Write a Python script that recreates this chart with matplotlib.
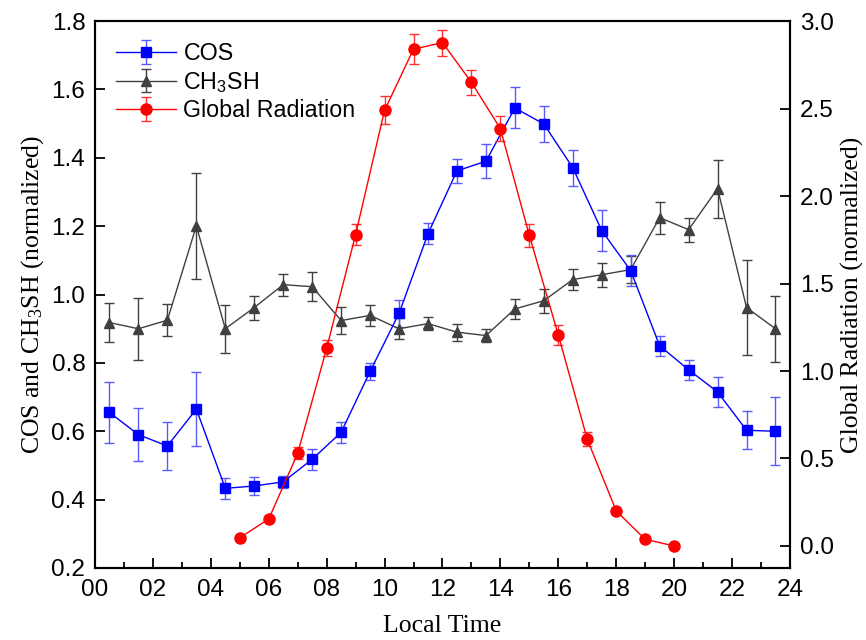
import numpy as np
import matplotlib
matplotlib.use('Agg')
import matplotlib.pyplot as plt
from matplotlib.ticker import MultipleLocator, FixedLocator, FormatStrFormatter

plt.rcParams['font.family'] = 'Liberation Sans'
plt.rcParams['mathtext.default'] = 'regular'

# hourly data (half-hour centres)
hours = np.arange(0.5, 24, 1.0)
cos_vals = [0.655, 0.59, 0.557, 0.665, 0.433, 0.44, 0.452, 0.518, 0.597, 0.775,
            0.945, 1.178, 1.362, 1.39, 1.546, 1.499, 1.371, 1.187, 1.07, 0.85,
            0.78, 0.715, 0.603, 0.6]
cos_err = [0.09, 0.077, 0.07, 0.107, 0.03, 0.025, 0.018, 0.03, 0.03, 0.025,
           0.04, 0.03, 0.035, 0.05, 0.06, 0.053, 0.053, 0.06, 0.045, 0.03,
           0.03, 0.045, 0.055, 0.1]
ch3sh_vals = [0.918, 0.90, 0.925, 1.201, 0.90, 0.962, 1.029, 1.023, 0.924, 0.939,
              0.90, 0.915, 0.89, 0.88, 0.958, 0.982, 1.044, 1.058, 1.073, 1.225,
              1.19, 1.31, 0.962, 0.90]
ch3sh_err = [0.056, 0.09, 0.046, 0.156, 0.07, 0.035, 0.032, 0.042, 0.04, 0.03,
             0.03, 0.02, 0.025, 0.02, 0.03, 0.035, 0.032, 0.035, 0.04, 0.047,
             0.035, 0.085, 0.14, 0.097]

# global radiation (whole hours)
rad_hours = np.arange(5, 21)
rad_vals = [0.047, 0.154, 0.53, 1.13, 1.78, 2.49, 2.84, 2.877, 2.65, 2.385,
            1.775, 1.206, 0.61, 0.2, 0.038, 0.0]
rad_err = [0.0, 0.0, 0.035, 0.045, 0.06, 0.08, 0.085, 0.075, 0.07, 0.07,
           0.065, 0.055, 0.04, 0.01, 0.0, 0.0]

x_ticks = np.arange(0, 25, 2)
x_ticklabels = ['%02d' % h for h in x_ticks]
rad_ticks = [0.0, 0.5, 1.0, 1.5, 2.0, 2.5, 3.0]

fig = plt.figure(figsize=(8.66, 6.4), dpi=100)
ax = fig.add_axes([0.1097, 0.1125, 0.8025, 0.8545])
ax2 = ax.twinx()

gray = '#404040'
ax.errorbar(hours, ch3sh_vals, yerr=ch3sh_err, color=gray, ecolor=gray,
            marker='^', markersize=7.5, lw=1.0, elinewidth=1.0, capsize=3.5,
            capthick=1.0, label='CH$_3$SH')
ax.errorbar(hours, cos_vals, yerr=cos_err, color='#0000ff', ecolor='#5a5aff',
            marker='s', markersize=6.5, lw=1.0, elinewidth=1.0, capsize=3.5,
            capthick=1.0, label='COS')
ax2.errorbar(rad_hours, rad_vals, yerr=rad_err, color='#ff0000', ecolor='#ff3030',
             marker='o', markersize=8, lw=1.0, elinewidth=1.0, capsize=3.5,
             capthick=1.0, label='Global Radiation')

ax.set_xlim(0, 24)
ax.set_ylim(0.2, 1.8)
ax2.set_ylim(-0.126, 3.0)

ax.xaxis.set_minor_locator(MultipleLocator(1))
ax.set_xticks(x_ticks)
ax.set_xticklabels(x_ticklabels)
ax.yaxis.set_major_locator(MultipleLocator(0.2))
ax.yaxis.set_major_formatter(FormatStrFormatter('%.1f'))
ax2.yaxis.set_major_locator(FixedLocator(rad_ticks))
ax2.yaxis.set_major_formatter(FormatStrFormatter('%.1f'))

for a in (ax, ax2):
    a.tick_params(direction='in', length=7, width=1.3, labelsize=17.5)
    a.tick_params(which='minor', direction='in', length=4, width=1.3)
    for s in a.spines.values():
        s.set_linewidth(1.5)
ax.tick_params(axis='y', right=False, pad=7)
ax.tick_params(axis='x', top=False, pad=8)
ax.tick_params(axis='x', which='minor', top=False)
ax2.tick_params(axis='y', pad=7)

ax.set_xlabel('Local Time', family='Liberation Serif', fontsize=18.5, labelpad=10)
ax.set_ylabel('COS and CH$_3$SH (normalized)', family='Liberation Serif', fontsize=18.5,
              labelpad=4)
ax2.set_ylabel('Global Radiation (normalized)', family='Liberation Serif', fontsize=18.5,
               labelpad=5)

h1, l1 = ax.get_legend_handles_labels()
h2, l2 = ax2.get_legend_handles_labels()
handles = [h1[1], h1[0], h2[0]]
labels = [l1[1], l1[0], l2[0]]
ax2.legend(handles, labels, loc='upper left', frameon=False, fontsize=16.75,
           handlelength=2.6, handletextpad=0.3, labelspacing=0.2,
           bbox_to_anchor=(0.0, 1.0), borderaxespad=0.5)

fig.savefig('out.png', dpi=100)
